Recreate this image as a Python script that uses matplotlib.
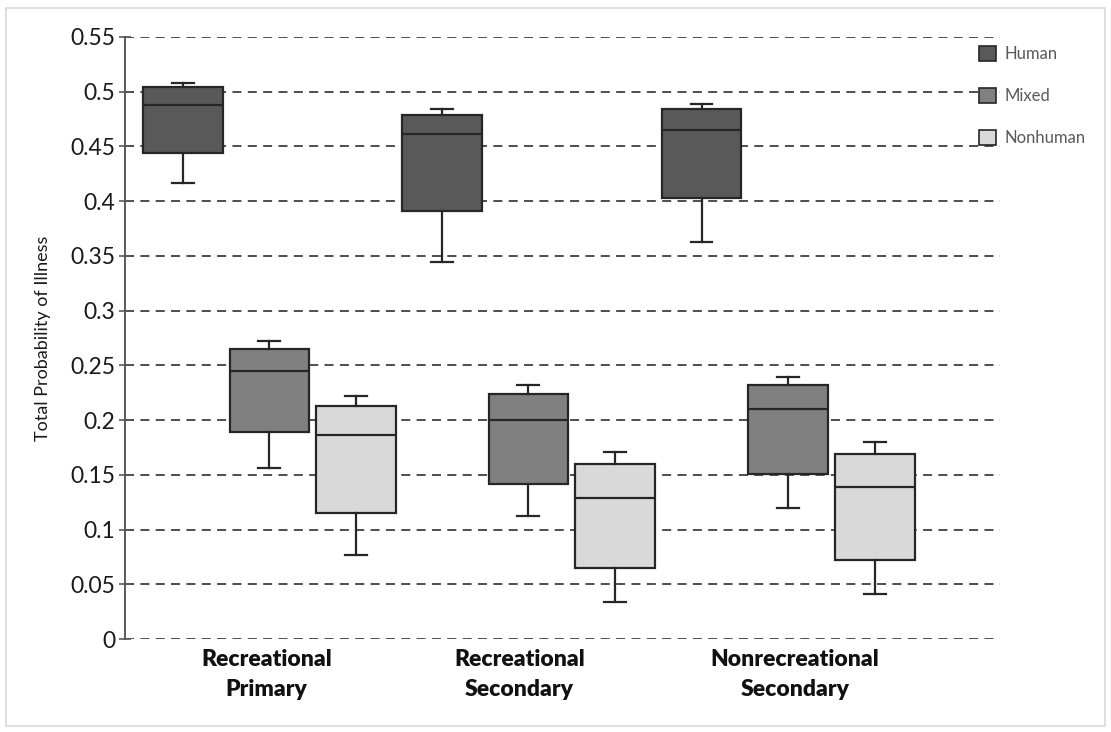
import matplotlib
matplotlib.use('Agg')
import matplotlib.pyplot as plt
from matplotlib.patches import Patch, Rectangle

# ------------------------------------------------------------------------------
# Data: total probability of illness by source and recreational category
# ------------------------------------------------------------------------------
categories = ['Recreational\nPrimary', 'Recreational\nSecondary',
              'Nonrecreational\nSecondary']
sources = ['Human', 'Mixed', 'Nonhuman']

human_lo = [0.417, 0.344, 0.363]
human_q1 = [0.444, 0.391, 0.403]
human_med = [0.488, 0.461, 0.465]
human_q3 = [0.504, 0.479, 0.484]
human_hi = [0.508, 0.484, 0.489]

mixed_lo = [0.156, 0.112, 0.120]
mixed_q1 = [0.189, 0.142, 0.151]
mixed_med = [0.245, 0.2005, 0.210]
mixed_q3 = [0.265, 0.224, 0.232]
mixed_hi = [0.272, 0.232, 0.239]

nonhuman_lo = [0.077, 0.034, 0.041]
nonhuman_q1 = [0.115, 0.065, 0.072]
nonhuman_med = [0.186, 0.129, 0.139]
nonhuman_q3 = [0.213, 0.160, 0.169]
nonhuman_hi = [0.222, 0.171, 0.180]

yticks = [0, 0.05, 0.1, 0.15, 0.2, 0.25, 0.3, 0.35, 0.4, 0.45, 0.5, 0.55]
ytick_labels = ['0', '0.05', '0.1', '0.15', '0.2', '0.25', '0.3', '0.35',
                '0.4', '0.45', '0.5', '0.55']

# ------------------------------------------------------------------------------
# Layout
# ------------------------------------------------------------------------------
plt.rcParams['font.family'] = ['Lato', 'DejaVu Sans']
colors = ['#595959', '#808080', '#d9d9d9']
edge = '#262626'
group_start = [0.66, 3.62, 6.59]
step = 0.99
label_pos = [1.62, 4.51, 7.66]

series = [
    (human_lo, human_q1, human_med, human_q3, human_hi),
    (mixed_lo, mixed_q1, mixed_med, mixed_q3, mixed_hi),
    (nonhuman_lo, nonhuman_q1, nonhuman_med, nonhuman_q3, nonhuman_hi),
]

fig = plt.figure(figsize=(11.11, 7.32), dpi=100)
ax = fig.add_axes([0.1125, 0.127, 0.7875, 0.8225])

for k, (lo, q1, med, q3, hi) in enumerate(series):
    stats = []
    for g in range(len(categories)):
        stats.append({'whislo': lo[g], 'q1': q1[g], 'med': med[g],
                      'q3': q3[g], 'whishi': hi[g], 'fliers': []})
    pos = [s + k * step for s in group_start]
    ax.bxp(stats, positions=pos, widths=0.91, patch_artist=True,
           showfliers=False, manage_ticks=False,
           boxprops=dict(facecolor=colors[k], edgecolor=edge, lw=1.6),
           medianprops=dict(color=edge, lw=1.6),
           whiskerprops=dict(color=edge, lw=1.6),
           capprops=dict(color=edge, lw=1.6), capwidths=0.25, zorder=3)

ax.set_xlim(0, 10)
ax.set_ylim(0, 0.55)
ax.set_yticks(yticks)
ax.set_yticklabels(ytick_labels, fontsize=16.5, color='#1a1a1a')
ax.set_xticks(label_pos)
ax.set_xticklabels(categories, fontsize=16.5, fontweight='heavy',
                   color='#111111', linespacing=1.55)
ax.tick_params(axis='x', length=0, pad=7)
ax.tick_params(axis='y', direction='inout', length=8, width=1.2,
               color='#595959', pad=3)
ax.yaxis.grid(True, linestyle=(0, (5, 3.5)), color='#404040', lw=1.3,
              zorder=0)
ax.set_axisbelow(True)
for side in ['top', 'right', 'bottom']:
    ax.spines[side].set_visible(False)
ax.spines['left'].set_color('#595959')
ax.spines['left'].set_linewidth(1.4)
ax.set_ylabel('Total Probability of Illness', fontsize=13,
              color='#1a1a1a', labelpad=14)

handles = [Patch(facecolor=c, edgecolor=edge, lw=1.2) for c in colors]
leg = fig.legend(handles, sources, loc='upper left',
                 bbox_to_anchor=(0.868, 0.958), frameon=False,
                 fontsize=12, labelspacing=1.55, handlelength=1.0,
                 handleheight=1.0, handletextpad=0.5)
for t in leg.get_texts():
    t.set_color('#595959')

# light frame round the figure
fig.patches.append(Rectangle((0.005, 0.008), 0.99, 0.981, fill=False,
                             edgecolor='#d9d9d9', lw=1.2,
                             transform=fig.transFigure, figure=fig))

fig.savefig('out.png', dpi=100)
